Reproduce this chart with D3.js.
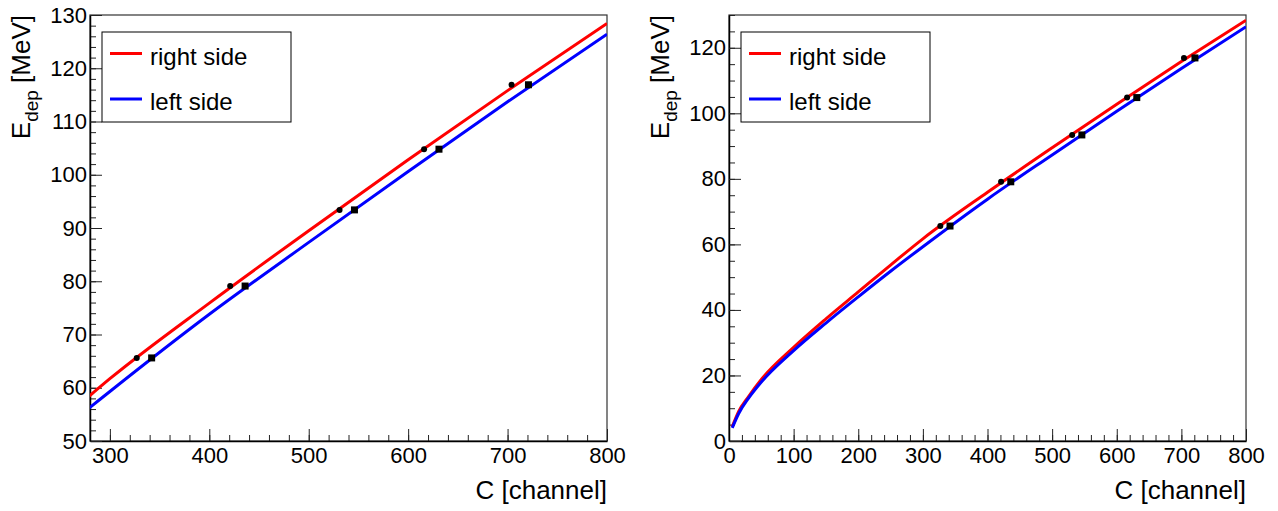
<!DOCTYPE html>
<html>
<head>
<meta charset="utf-8">
<script src="https://cdn.jsdelivr.net/npm/d3@7"></script>
<style>
  body { margin: 0; background: #fff; }
  text { font-family: "Liberation Sans", Arial, sans-serif; fill: #000; }
</style>
</head>
<body>
<div id="chart"></div>
<script>
// measured points (same in both pads)
const rightSideC = [327, 421, 531, 616, 704];
const rightSideE = [65.6, 79.1, 93.4, 104.8, 116.9];
const leftSideC = [342, 436, 546, 631, 721];
const leftSideE = [65.6, 79.1, 93.4, 104.8, 116.9];

// calibration curves; the left pad shows a zoom of the same curves
const curveRightC = [5, 15, 30, 50, 100, 150, 200, 250, 300, 400, 500, 600, 700, 800];
const curveRightE = [4.3, 9.0, 13.5, 18.8, 28.6, 37.3, 45.5, 53.7, 61.7, 75.9, 89.5, 102.8, 115.8, 128.4];
const curveLeftC = [5, 15, 30, 50, 100, 150, 200, 250, 300, 400, 500, 600, 700, 800];
const curveLeftE = [4.0, 8.4, 13.0, 18.0, 27.6, 36.0, 44.0, 51.8, 59.3, 73.8, 87.3, 100.6, 113.7, 126.4];

const legendLabels = ["right side", "left side"];
const colors = ["#ff0000", "#0000ff"];

const svg = d3.select("#chart").append("svg")
  .attr("width", 1278).attr("height", 511);

function zip(xs, ys) { return xs.map((x, i) => ({c: x, e: ys[i]})); }

function drawPad(cfg) {
  const g = svg.append("g");
  const x = d3.scaleLinear().domain(cfg.xDomain).range([cfg.left, cfg.right]);
  const y = d3.scaleLinear().domain(cfg.yDomain).range([cfg.bottom, cfg.top]);

  g.append("clipPath").attr("id", cfg.id)
    .append("rect")
    .attr("x", cfg.left).attr("y", cfg.top)
    .attr("width", cfg.right - cfg.left).attr("height", cfg.bottom - cfg.top);

  // frame
  g.append("rect")
    .attr("x", cfg.left).attr("y", cfg.top)
    .attr("width", cfg.right - cfg.left).attr("height", cfg.bottom - cfg.top)
    .attr("fill", "none").attr("stroke", "#333").attr("stroke-width", 1.2);

  const xMajor = d3.range(cfg.xDomain[0], cfg.xDomain[1] + 0.1, 1).filter(v => v % cfg.xMajor === 0);
  const xMinor = d3.range(cfg.xDomain[0], cfg.xDomain[1] + 0.1, 1).filter(v => v % cfg.xMinor === 0);
  const yMajor = d3.range(cfg.yDomain[0], cfg.yDomain[1] + 0.1, 1).filter(v => v % cfg.yMajor === 0);
  const yMinor = d3.range(cfg.yDomain[0], cfg.yDomain[1] + 0.1, 1).filter(v => v % cfg.yMinor === 0);

  g.append("g").attr("transform", `translate(0,${cfg.bottom})`)
    .call(d3.axisBottom(x).tickValues(xMinor).tickSize(-6).tickSizeOuter(0).tickFormat(""))
    .call(a => a.select(".domain").remove());
  g.append("g").attr("transform", `translate(0,${cfg.bottom})`)
    .call(d3.axisBottom(x).tickValues(xMajor).tickSize(-12).tickSizeOuter(0).tickPadding(6))
    .call(a => a.selectAll("text").style("font-size", "22px").style("font-family", "Liberation Sans, Arial, sans-serif"));

  g.append("g").attr("transform", `translate(${cfg.left},0)`)
    .call(d3.axisLeft(y).tickValues(yMinor).tickSize(-6).tickSizeOuter(0).tickFormat(""))
    .call(a => a.select(".domain").remove());
  g.append("g").attr("transform", `translate(${cfg.left},0)`)
    .call(d3.axisLeft(y).tickValues(yMajor).tickSize(-12).tickSizeOuter(0).tickPadding(3))
    .call(a => a.selectAll("text").style("font-size", "22px").style("font-family", "Liberation Sans, Arial, sans-serif"));

  g.selectAll(".domain").attr("stroke", "#000").attr("stroke-width", 1.5);
  g.selectAll(".tick line").attr("stroke", "#222");

  // curves
  const line = d3.line().x(d => x(d.c)).y(d => y(d.e)).curve(d3.curveMonotoneX);
  const curves = [zip(curveRightC, curveRightE), zip(curveLeftC, curveLeftE)];
  curves.forEach((pts, i) => {
    g.append("path").datum(pts)
      .attr("clip-path", `url(#${cfg.id})`)
      .attr("fill", "none").attr("stroke", colors[i]).attr("stroke-width", 3)
      .attr("d", line);
  });

  // points
  g.selectAll(".pt-c").data(zip(rightSideC, rightSideE)).join("circle")
    .attr("cx", d => x(d.c)).attr("cy", d => y(d.e)).attr("r", 3).attr("fill", "#000");
  g.selectAll(".pt-s").data(zip(leftSideC, leftSideE)).join("rect")
    .attr("x", d => x(d.c) - 3.5).attr("y", d => y(d.e) - 3.5)
    .attr("width", 7).attr("height", 7).attr("fill", "#000");

  // axis titles
  g.append("text")
    .attr("x", cfg.right).attr("y", 499)
    .attr("text-anchor", "end").style("font-size", "26px")
    .text("C [channel]");

  const yt = g.append("text")
    .attr("transform", `translate(${cfg.left - 60},${cfg.top}) rotate(-90)`)
    .attr("text-anchor", "end").style("font-size", "26px");
  yt.append("tspan").text("E");
  yt.append("tspan").attr("dy", 8).style("font-size", "19px").text("dep");
  yt.append("tspan").attr("dy", -8).text(" [MeV]");

  // legend
  const lg = g.append("g").attr("transform", `translate(${cfg.left + 12},${cfg.top + 17})`);
  lg.append("rect").attr("x", 0).attr("y", 0).attr("width", 189).attr("height", 90)
    .attr("fill", "#fff").attr("stroke", "#000").attr("stroke-width", 1);
  legendLabels.forEach((lab, i) => {
    const yy = 21.5 + i * 45.5;
    lg.append("line").attr("x1", 8).attr("x2", 40).attr("y1", yy).attr("y2", yy)
      .attr("stroke", colors[i]).attr("stroke-width", 3);
    lg.append("text").attr("x", 48).attr("y", yy + 11)
      .style("font-size", "24px").text(lab);
  });
}

drawPad({
  id: "clipL", left: 90, right: 607, top: 15, bottom: 441,
  xDomain: [280, 800], yDomain: [50, 130],
  xMajor: 100, xMinor: 20, yMajor: 10, yMinor: 2
});

drawPad({
  id: "clipR", left: 729, right: 1246, top: 15, bottom: 441,
  xDomain: [0, 800], yDomain: [0, 130],
  xMajor: 100, xMinor: 20, yMajor: 20, yMinor: 5
});
</script>
</body>
</html>
